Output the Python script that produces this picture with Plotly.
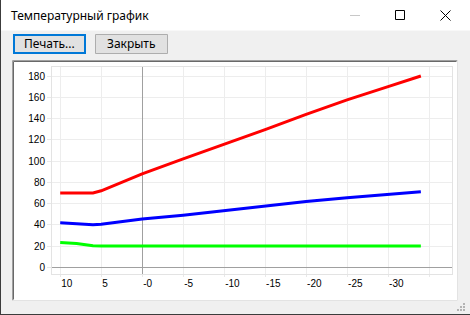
import plotly.graph_objects as go

# ---- data ----
outdoor_t = [10, 8, 6, 5, 0, -5, -10, -15, -20, -25, -30, -34]
supply_t = [70, 70, 70, 72, 88, 102, 115.5, 129.5, 144, 157.5, 170, 180]
return_t = [42, 41, 40, 40.5, 45.5, 49, 53.5, 58, 62, 65.5, 68.5, 71]
other_t = [23.3, 22.4, 20.2, 20, 20, 20, 20, 20, 20, 20, 20, 20]

x_tick_vals = [10, 5, 0, -5, -10, -15, -20, -25, -30, -35]
x_tick_text = ["10", "5", "-0", "-5", "-10", "-15", "-20", "-25", "-30", ""]
y_tick_vals = [0, 20, 40, 60, 80, 100, 120, 140, 160, 180]

window_title = "Температурный график"
btn_print = "Печать..."
btn_close = "Закрыть"

# ---- layout geometry (pixels) ----
W, H = 470, 315
L, R, T, B = 52, 18, 67, 41
PW, PH = W - L - R, H - T - B


def px(x):
    return (x - L) / PW


def py(y):
    return (H - B - y) / PH


def rect(x0, y0, x1, y1, fill=None, line=None, lw=0):
    d = dict(type="rect", xref="paper", yref="paper", layer="below",
             x0=px(x0), x1=px(x1), y0=py(y0), y1=py(y1),
             line=dict(width=lw, color=line or "rgba(0,0,0,0)"))
    if fill:
        d["fillcolor"] = fill
    return d


def seg(x0, y0, x1, y1, color, lw=1, layer="below"):
    return dict(type="line", xref="paper", yref="paper", layer=layer,
                x0=px(x0), x1=px(x1), y0=py(y0), y1=py(y1),
                line=dict(width=lw, color=color))


fig = go.Figure()
fig.add_trace(go.Scatter(x=outdoor_t, y=supply_t, mode="lines",
                         line=dict(color="#FF0000", width=3)))
fig.add_trace(go.Scatter(x=outdoor_t, y=return_t, mode="lines",
                         line=dict(color="#0000FF", width=3)))
fig.add_trace(go.Scatter(x=outdoor_t, y=other_t, mode="lines",
                         line=dict(color="#00FF00", width=3)))

shapes = [
    rect(0, 0, 470, 30.5, fill="#FFFFFF"),
    rect(12, 60, 458, 301, fill="#FFFFFF"),
    seg(12.5, 60.5, 457.5, 60.5, "#A0A0A0"),
    seg(12.5, 60.5, 12.5, 300.5, "#A0A0A0"),
    seg(13.5, 61.5, 456.5, 61.5, "#696969"),
    seg(13.5, 61.5, 13.5, 299.5, "#696969"),
    seg(457.5, 60.5, 457.5, 300.5, "#E3E3E3"),
    seg(12.5, 300.5, 457.5, 300.5, "#E3E3E3"),
    # buttons
    rect(14, 35, 85, 53, fill="#E1E1E1", line="#0078D7", lw=2),
    rect(95.5, 34.5, 167.5, 53.5, fill="#E1E1E1", line="#ADADAD", lw=1),
    # title bar icons
    seg(350, 15.5, 360, 15.5, "#C8C8C8", layer="above"),
    rect(395.5, 10.5, 404.5, 19.5, line="#000000", lw=1),
    seg(440.5, 10.5, 450.5, 20.5, "#000000", layer="above"),
    seg(450.5, 10.5, 440.5, 20.5, "#000000", layer="above"),
    # window border
    seg(0.5, 0, 0.5, 315, "#3C3C3C", layer="above"),
    seg(0, 314.5, 470, 314.5, "#3C3C3C", layer="above"),
]
# resize grip dots
for gx, gy in [(463, 303), (460, 306), (463, 306), (457, 309), (460, 309), (463, 309)]:
    shapes.append(rect(gx, gy, gx + 2, gy + 2, fill="#B4B4B4"))

ui_font = dict(family="Noto Sans, Segoe UI, Arial", size=12, color="#000000")
annotations = [
    dict(text=window_title, x=px(9), y=py(15.5), xanchor="left", yanchor="middle"),
    dict(text=btn_print, x=px(49.5), y=py(44), xanchor="center", yanchor="middle"),
    dict(text=btn_close, x=px(131.5), y=py(44), xanchor="center", yanchor="middle"),
]
for a in annotations:
    a.update(xref="paper", yref="paper", showarrow=False, font=ui_font)

tick_font = dict(family="Liberation Sans, Arial", size=10, color="#000000")
fig.update_layout(
    width=W, height=H,
    margin=dict(l=L, r=R, t=T, b=B, pad=0),
    paper_bgcolor="#F0F0F0",
    plot_bgcolor="#FFFFFF",
    showlegend=False,
    shapes=shapes,
    annotations=annotations,
    xaxis=dict(range=[11, -37.8], tickvals=x_tick_vals, ticktext=x_tick_text,
               ticklabelposition="outside right", ticks="outside", ticklen=2,
               tickcolor="#E8E8E8", showgrid=True, gridcolor="#EDEDED", gridwidth=1,
               zeroline=True, zerolinecolor="#A0A0A0", zerolinewidth=1,
               showline=True, mirror=True, linecolor="#E3E3E3", linewidth=1,
               tickfont=tick_font, fixedrange=True),
    yaxis=dict(range=[-6.3, 188.5], tickvals=y_tick_vals, ticks="outside", ticklen=4,
               tickcolor="#E8E8E8", showgrid=True, gridcolor="#EDEDED", gridwidth=1,
               zeroline=True, zerolinecolor="#A0A0A0", zerolinewidth=1,
               showline=True, mirror=True, linecolor="#E3E3E3", linewidth=1,
               tickfont=tick_font, fixedrange=True),
)

fig.write_html("out.html", config=dict(displayModeBar=False))
